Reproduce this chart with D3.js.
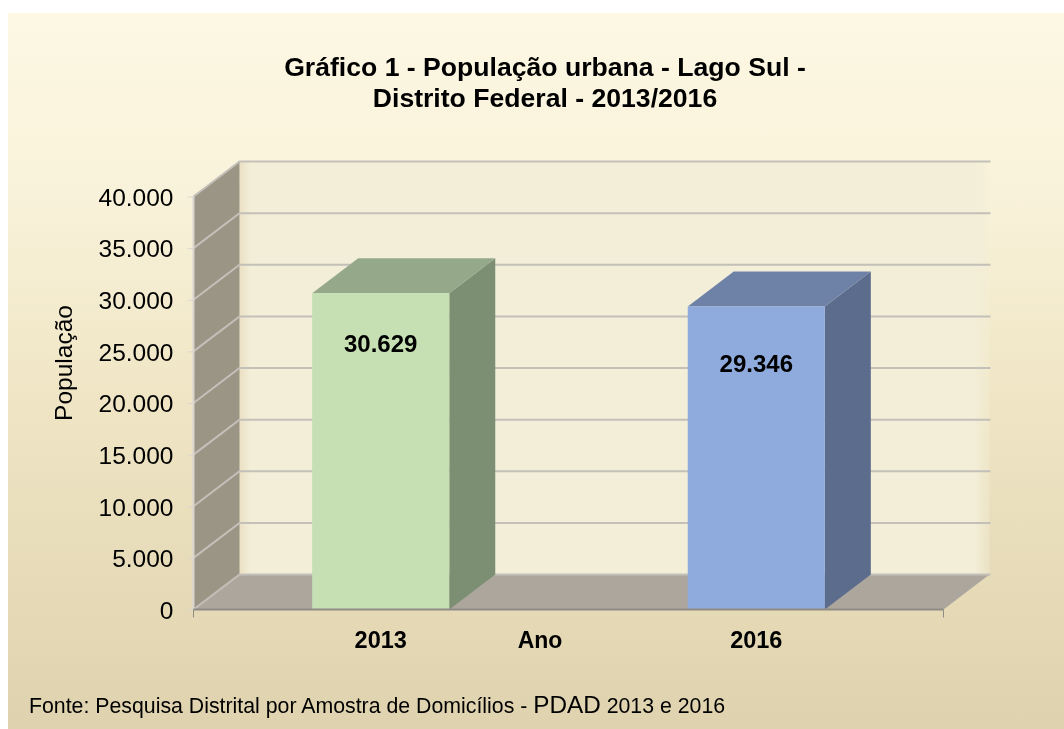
<!DOCTYPE html>
<html>
<head>
<meta charset="utf-8">
<script src="https://cdn.jsdelivr.net/npm/d3@7"></script>
<style>
  html, body { margin: 0; padding: 0; background: #fff; }
  svg { display: block; }
  text { font-family: "Liberation Sans", Arial, sans-serif; fill: #000; filter: url(#soft); }
  .blurred { filter: url(#soft); }
</style>
</head>
<body>
<svg width="1064" height="729"></svg>
<script>
const years = ["2013", "2016"];
const population = [30629, 29346];
const yTicks = [0, 5000, 10000, 15000, 20000, 25000, 30000, 35000, 40000];
const titleLines = ["Gráfico 1 - População urbana - Lago Sul -", "Distrito Federal - 2013/2016"];

const svg = d3.select("svg");

// Oblique offset of the 3D box
const depthX = 46, depthY = -35;
const plotLeft = 193.5, plotRight = 943.5, plotBottom = 609.5, plotTop = 196.5;

const x = d3.scaleBand().domain(years).range([plotLeft, plotRight]).paddingInner(0.635).paddingOuter(0.316);
const y = d3.scaleLinear().domain([0, 40000]).range([plotBottom, plotTop]);

const ptBR = d3.formatLocale({ decimal: ",", thousands: ".", grouping: [3], currency: ["R$", ""] });
const fmt = ptBR.format(",");

const barColors = [
    { front: "#c6e0b4", top: "#95a98a", side: "#7d8f73" },
    { front: "#8faadc", top: "#6e82a8", side: "#5c6c8c" }
];
// label sits a bit lower on the second bar in the original
const labelDrop = [50, 56.5];

const defs = svg.append("defs");

const bg = defs.append("linearGradient").attr("id", "bg").attr("x1", 0).attr("y1", 0).attr("x2", 0).attr("y2", 1);
bg.append("stop").attr("offset", "0%").attr("stop-color", "#fdf8e4");
bg.append("stop").attr("offset", "25%").attr("stop-color", "#f9f2da");
bg.append("stop").attr("offset", "55%").attr("stop-color", "#efe5c4");
bg.append("stop").attr("offset", "100%").attr("stop-color", "#dfd2ae");

const wallFade = defs.append("linearGradient").attr("id", "wall").attr("x1", 0).attr("x2", 1).attr("y1", 0).attr("y2", 0);
wallFade.append("stop").attr("offset", "0%").attr("stop-color", "#ebe0c4");
wallFade.append("stop").attr("offset", "1.5%").attr("stop-color", "#f3eed8");
wallFade.append("stop").attr("offset", "98%").attr("stop-color", "#f3eed8");
wallFade.append("stop").attr("offset", "100%").attr("stop-color", "#f3eed8").attr("stop-opacity", 0.3);

defs.append("filter").attr("id", "soft").append("feGaussianBlur").attr("stdDeviation", 0.35);

const poly = pts => pts.map(p => p.join(",")).join(" ");

// panel
svg.append("rect").attr("x", 8).attr("y", 13).attr("width", 1056).attr("height", 716).attr("fill", "url(#bg)");

// title
svg.append("g").selectAll("text").data(titleLines).join("text")
    .attr("x", 545)
    .attr("y", (d, i) => 76 + i * 31)
    .attr("text-anchor", "middle")
    .attr("font-size", 26.6)
    .attr("font-weight", "bold")
    .text(d => d);

const scene = svg.append("g").attr("class", "blurred");

// back wall
scene.append("rect")
    .attr("x", plotLeft + depthX).attr("y", y(40000) + depthY)
    .attr("width", plotRight - plotLeft)
    .attr("height", y(0) - y(40000))
    .attr("fill", "url(#wall)");

// left wall
scene.append("polygon")
    .attr("points", poly([[plotLeft, y(0)], [plotLeft, y(40000)], [plotLeft + depthX, y(40000) + depthY], [plotLeft + depthX, y(0) + depthY]]))
    .attr("fill", "#9a9585");

// floor
scene.append("polygon")
    .attr("points", poly([[plotLeft, y(0)], [plotRight, y(0)], [plotRight + depthX, y(0) + depthY], [plotLeft + depthX, y(0) + depthY]]))
    .attr("fill", "#aca69d");

// gridlines: along the left wall, then along the back wall
const grid = scene.append("g").attr("fill", "none").attr("stroke", "#c3c0b9");
grid.selectAll("polyline").data(yTicks).join("polyline")
    .attr("stroke-width", 2)
    .attr("points", d => poly([[plotLeft, y(d)], [plotLeft + depthX, y(d) + depthY], [plotRight + depthX + 1, y(d) + depthY]]));

// left edge highlight
scene.append("line")
    .attr("x1", plotLeft).attr("x2", plotLeft).attr("y1", y(0)).attr("y2", y(40000))
    .attr("stroke", "#d9d6cf").attr("stroke-width", 2);

// bars
const bars = scene.append("g").selectAll("g").data(years).join("g");
bars.append("polygon")
    .attr("points", (d, i) => {
        const x0 = x(d) + x.bandwidth(), yt = y(population[i]);
        return poly([[x0, yt], [x0 + depthX, yt + depthY], [x0 + depthX, y(0) + depthY], [x0, y(0)]]);
    })
    .attr("fill", (d, i) => barColors[i].side);
bars.append("polygon")
    .attr("points", (d, i) => {
        const x0 = x(d), x1 = x0 + x.bandwidth(), yt = y(population[i]);
        return poly([[x0, yt], [x1, yt], [x1 + depthX, yt + depthY], [x0 + depthX, yt + depthY]]);
    })
    .attr("fill", (d, i) => barColors[i].top);
bars.append("rect")
    .attr("x", d => x(d))
    .attr("y", (d, i) => y(population[i]))
    .attr("width", x.bandwidth())
    .attr("height", (d, i) => y(0) - y(population[i]))
    .attr("fill", (d, i) => barColors[i].front);

// value labels
svg.append("g").selectAll("text").data(years).join("text")
    .attr("x", d => x(d) + x.bandwidth() / 2)
    .attr("y", (d, i) => y(population[i]) + labelDrop[i])
    .attr("dy", "0.36em")
    .attr("text-anchor", "middle")
    .attr("font-size", 24)
    .attr("font-weight", "bold")
    .text((d, i) => fmt(population[i]));

// y axis
const yAxis = svg.append("g")
    .attr("transform", `translate(${plotLeft},0)`)
    .call(d3.axisLeft(y).tickValues(yTicks).tickFormat(fmt).tickSize(6).tickPadding(14));
yAxis.select(".domain").remove();
yAxis.selectAll("line").attr("stroke", "#d9d6cf");
yAxis.selectAll("text").attr("font-size", 24.5).attr("font-family", null).attr("dy", "0.36em");

// x axis
const xAxis = svg.append("g")
    .attr("transform", `translate(0,${plotBottom})`)
    .call(d3.axisBottom(x).tickSize(0).tickPadding(22));
xAxis.select(".domain").attr("stroke", "#8f8c86").attr("stroke-width", 2).attr("d", `M${plotLeft},0H${plotRight}`);
xAxis.selectAll("text").attr("font-size", 23.5).attr("font-weight", "bold").attr("font-family", null);
// end ticks of the category axis
svg.append("g").selectAll("line").data(x.range()).join("line")
    .attr("x1", d => d).attr("x2", d => d)
    .attr("y1", plotBottom).attr("y2", plotBottom + 8)
    .attr("stroke", "#8f8c86");

// axis titles
svg.append("text")
    .attr("x", 540).attr("y", 648)
    .attr("text-anchor", "middle")
    .attr("font-size", 23)
    .attr("font-weight", "bold")
    .text("Ano");
svg.append("text")
    .attr("transform", "translate(72,363) rotate(-90)")
    .attr("text-anchor", "middle")
    .attr("font-size", 24.5)
    .text("População");

// source note
const note = svg.append("text").attr("x", 29).attr("y", 713).attr("font-size", 21.3);
note.append("tspan").text("Fonte: Pesquisa Distrital por Amostra de Domicílios - ");
note.append("tspan").attr("font-size", 24.3).text("PDAD");
note.append("tspan").text(" 2013 e 2016");
</script>
</body>
</html>
